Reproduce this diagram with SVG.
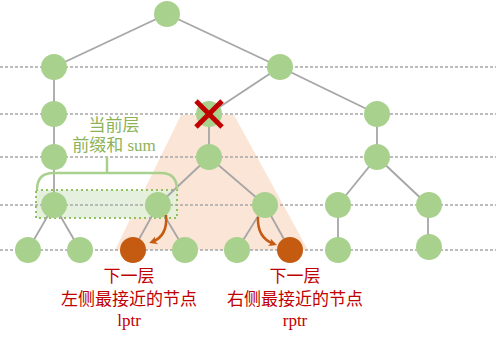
<svg xmlns="http://www.w3.org/2000/svg" width="496" height="338" viewBox="0 0 496 338">
<defs>
<style>
.lvl{stroke:#a6a6a6;stroke-width:1.5;stroke-dasharray:3 2;fill:none}
.e{stroke:#a6a6a6;stroke-width:1.8;fill:none}
.n{fill:#a9d18e}
.o{fill:#c55a11}
.arr{stroke:#c55a11;stroke-width:2.5;fill:none}
.g{font-family:"Liberation Serif","Noto Sans CJK SC",serif;font-size:17px;fill:#8db35a;text-anchor:middle}
.r{font-family:"Liberation Serif","Noto Sans CJK SC",serif;font-size:17px;fill:#c00000;text-anchor:middle}
</style>
<marker id="ah" markerWidth="8" markerHeight="8" refX="5" refY="4" orient="auto" markerUnits="userSpaceOnUse" viewBox="0 0 8 8">
<path d="M0,0 L8,4 L0,8 L2,4 Z" fill="#c55a11"/>
</marker>
</defs>
<rect width="496" height="338" fill="#ffffff"/>
<g id="shade">
<polygon points="181,115 234,115 308,250 115,250" fill="#fbe5d6"/>
<rect x="36" y="190" width="141" height="28" fill="#e2efda" fill-opacity="0.9" stroke="#8fc15f" stroke-width="2" stroke-dasharray="2 3"/>
</g>
<g id="levels">
<line class="lvl" x1="0" y1="67" x2="496" y2="67"/>
<line class="lvl" x1="0" y1="114" x2="496" y2="114"/>
<line class="lvl" x1="0" y1="157" x2="496" y2="157"/>
<line class="lvl" x1="0" y1="205" x2="496" y2="205"/>
<line class="lvl" x1="0" y1="250" x2="496" y2="250"/>
</g>
<g id="connectors">
<line class="e" x1="167" y1="14" x2="54" y2="67"/>
<line class="e" x1="167" y1="14" x2="280" y2="67"/>
<line class="e" x1="54" y1="67" x2="54" y2="205"/>
<line class="e" x1="54" y1="205" x2="28" y2="250"/>
<line class="e" x1="54" y1="205" x2="80" y2="250"/>
<line class="e" x1="280" y1="67" x2="209" y2="114"/>
<line class="e" x1="280" y1="67" x2="377" y2="114"/>
<line class="e" x1="209" y1="114" x2="209" y2="157"/>
<line class="e" x1="209" y1="157" x2="158" y2="205"/>
<line class="e" x1="209" y1="157" x2="265" y2="205"/>
<line class="e" x1="158" y1="205" x2="133" y2="250"/>
<line class="e" x1="158" y1="205" x2="185" y2="250"/>
<line class="e" x1="265" y1="205" x2="237" y2="250"/>
<line class="e" x1="265" y1="205" x2="290" y2="250"/>
<line class="e" x1="377" y1="114" x2="377" y2="157"/>
<line class="e" x1="377" y1="157" x2="338" y2="205"/>
<line class="e" x1="377" y1="157" x2="428" y2="205"/>
<line class="e" x1="338" y1="205" x2="338" y2="250"/>
<line class="e" x1="428" y1="205" x2="428" y2="247"/>
</g>
<g id="nodes">
<circle id="n0" class="n" cx="167" cy="14" r="13"/>
<circle id="n1" class="n" cx="54" cy="67" r="13"/>
<circle id="n2" class="n" cx="280" cy="67" r="13"/>
<circle id="n3" class="n" cx="54" cy="114" r="13"/>
<circle id="n4" class="n" cx="209" cy="114" r="13"/>
<circle id="n5" class="n" cx="377" cy="114" r="13"/>
<circle id="n6" class="n" cx="54" cy="157" r="13"/>
<circle id="n7" class="n" cx="209" cy="157" r="13"/>
<circle id="n8" class="n" cx="377" cy="157" r="13"/>
<circle id="n9" class="n" cx="54" cy="205" r="13"/>
<circle id="n10" class="n" cx="158" cy="205" r="13"/>
<circle id="n11" class="n" cx="265" cy="205" r="13"/>
<circle id="n12" class="n" cx="338" cy="205" r="13"/>
<circle id="n13" class="n" cx="429" cy="205" r="13"/>
<circle id="n14" class="n" cx="28" cy="250" r="13"/>
<circle id="n15" class="n" cx="80" cy="250" r="13"/>
<circle id="n16" class="o" cx="133" cy="250" r="13"/>
<circle id="n17" class="n" cx="185" cy="250" r="13"/>
<circle id="n18" class="n" cx="237" cy="250" r="13"/>
<circle id="n19" class="o" cx="290" cy="250" r="13"/>
<circle id="n20" class="n" cx="338" cy="250" r="13"/>
<circle id="n21" class="n" cx="429" cy="247" r="13"/>
</g>
<g id="cross">
<line x1="196" y1="101" x2="222" y2="127" stroke="#c00000" stroke-width="5"/>
<line x1="222" y1="101" x2="196" y2="127" stroke="#c00000" stroke-width="5"/>
</g>
<g id="arrows">
<path class="arr" d="M166,215 Q168,236 152,242" marker-end="url(#ah)"/>
<path class="arr" d="M258,217 Q257,238 274,244" marker-end="url(#ah)"/>
</g>
<g id="brace">
<path d="M37,190 Q37,173 53,173 L161,173 Q177,173 177,190" fill="none" stroke="#a9d18e" stroke-width="2.5"/>
<line x1="107" y1="157" x2="107" y2="173" stroke="#a9d18e" stroke-width="2.5"/>
</g>
<g id="labels">
<text class="g" x="114" y="131">当前层</text>
<text class="g" x="114" y="151">前缀和 sum</text>
<text class="r" x="129" y="282">下一层</text>
<text class="r" x="129" y="305">左侧最接近的节点</text>
<text class="r" x="129" y="326">lptr</text>
<text class="r" x="295" y="282">下一层</text>
<text class="r" x="295" y="305">右侧最接近的节点</text>
<text class="r" x="295" y="326">rptr</text>
</g>
</svg>
